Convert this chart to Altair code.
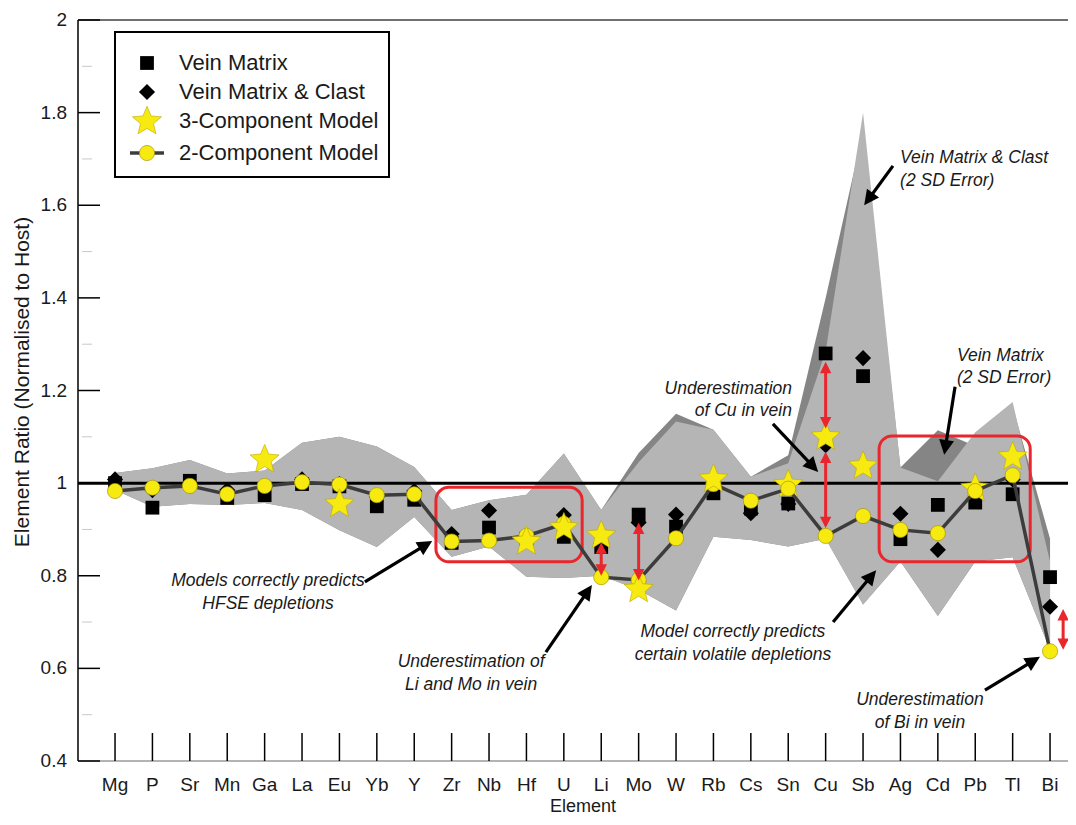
import math
import altair as alt
import pandas as pd

# ---------------- data ----------------
elements = ["Mg", "P", "Sr", "Mn", "Ga", "La", "Eu", "Yb", "Y", "Zr", "Nb", "Hf", "U",
            "Li", "Mo", "W", "Rb", "Cs", "Sn", "Cu", "Sb", "Ag", "Cd", "Pb", "Tl", "Bi"]
vein_matrix = [1.000, 0.947, 1.005, 0.968, 0.974, 0.998, 0.993, 0.950, 0.964, 0.871, 0.904, 0.880, 0.884,
               0.862, 0.932, 0.906, 0.978, 0.945, 0.956, 1.280, 1.231, 0.879, 0.953, 0.958, 0.976, 0.797]
vein_matrix_clast = [1.008, 0.985, 0.995, 0.985, 0.990, 1.008, 0.998, 0.970, 0.983, 0.890, 0.941, 0.884, 0.931,
                     0.870, 0.915, 0.932, 0.990, 0.935, 0.955, 1.082, 1.270, 0.934, 0.856, 0.972, 1.008, 0.733]
model_2comp = [0.983, 0.990, 0.994, 0.976, 0.994, 1.002, 0.997, 0.974, 0.976, 0.874, 0.876, 0.886, 0.912,
               0.797, 0.791, 0.881, 0.998, 0.962, 0.988, 0.886, 0.929, 0.899, 0.892, 0.983, 1.017, 0.637]
model_3comp = [None, None, None, None, 1.054, None, 0.958, None, None, None, None, 0.877, 0.907,
               0.890, 0.774, None, 1.012, None, 1.000, 1.103, 1.040, None, None, 0.992, 1.060, None]
stars_behind = ["Sn", "Pb"]
# 2 SD error envelopes
vmc_hi = [1.022, 1.032, 1.050, 1.021, 1.027, 1.087, 1.100, 1.079, 1.035, 0.942, 0.963, 0.975, 1.064,
          0.942, 1.045, 1.133, 1.115, 1.014, 1.043, 1.285, 1.800, 1.034, 1.004, 1.110, 1.175, 0.830]
vmc_lo = [0.985, 0.949, 0.955, 0.953, 0.957, 0.942, 0.898, 0.862, 0.927, 0.841, 0.863, 0.798, 0.795,
          0.800, 0.770, 0.725, 0.884, 0.877, 0.863, 0.880, 0.738, 0.831, 0.713, 0.831, 0.840, 0.640]
vm_hi = [1.022, 1.032, 1.050, 1.021, 1.027, 1.087, 1.100, 1.079, 1.035, 0.942, 0.963, 0.975, 1.064,
         0.942, 1.065, 1.150, 1.115, 1.014, 1.060, 1.400, 1.760, 1.034, 1.114, 1.080, 1.165, 0.880]
vm_lo = vmc_lo
y_major = [0.4, 0.6, 0.8, 1.0, 1.2, 1.4, 1.6, 1.8, 2.0]
y_labels = ["0.4", "0.6", "0.8", "1", "1.2", "1.4", "1.6", "1.8", "2"]
y_minor = [0.5, 0.7, 0.9, 1.1, 1.3, 1.5, 1.7, 1.9]
x_title = "Element"
y_title = "Element Ratio (Normalised to Host)"

# annotations (data coordinates: x = element index, y = ratio)
notes = [
    ("Models correctly predicts", 4.09, 0.789, "center"),
    ("HFSE depletions", 4.09, 0.739, "center"),
    ("Underestimation of", 9.52, 0.614, "center"),
    ("Li and Mo in vein", 9.52, 0.564, "center"),
    ("Model correctly predicts", 16.52, 0.679, "center"),
    ("certain volatile depletions", 16.52, 0.629, "center"),
    ("Underestimation", 18.10, 1.203, "right"),
    ("of Cu in vein", 18.10, 1.156, "right"),
    ("Vein Matrix & Clast", 20.99, 1.702, "left"),
    ("(2 SD Error)", 20.99, 1.652, "left"),
    ("Vein Matrix", 22.51, 1.275, "left"),
    ("(2 SD Error)", 22.51, 1.227, "left"),
    ("Underestimation", 21.52, 0.532, "center"),
    ("of Bi in vein", 21.52, 0.482, "center"),
]
note_arrows = [  # tail x, tail y, tip x, tip y
    (6.68, 0.787, 8.48, 0.875),
    (11.52, 0.635, 12.75, 0.780),
    (19.20, 0.700, 20.35, 0.812),
    (17.59, 1.128, 18.80, 1.024),
    (20.80, 1.685, 20.03, 1.600),
    (22.46, 1.208, 22.17, 1.061),
    (23.26, 0.553, 24.73, 0.625),
]
red_arrows = [  # x, top tip, bottom tip
    (13.0, 0.872, 0.800),
    (14.0, 0.915, 0.790),
    (19.0, 1.262, 1.118),
    (19.0, 1.068, 0.903),
    (25.35, 0.728, 0.640),
]
red_boxes = [  # x1, x2, y top, y bottom
    (8.58, 12.49, 0.991, 0.830),
    (20.43, 24.47, 1.102, 0.830),
]

# ---------------- layout ----------------
W, H = 990, 741
XDOM = [-0.99, 25.48]
YDOM = [0.4, 2.0]
SX = W / (XDOM[1] - XDOM[0])
SY = H / (YDOM[1] - YDOM[0])
FONT = "Liberation Sans"
TXT = "#1a1a1a"
RED = "#e8262c"
YEL = "#f7ea10"

xs = alt.Scale(domain=XDOM, nice=False, zero=False)
ys = alt.Scale(domain=YDOM, nice=False, zero=False)

df = pd.DataFrame({
    "el": elements, "i": list(range(len(elements))),
    "vm": vein_matrix, "vmc": vein_matrix_clast, "m2": model_2comp,
    "m3": [v if e not in stars_behind else None for e, v in zip(elements, model_3comp)],
    "m3b": [v if e in stars_behind else None for e, v in zip(elements, model_3comp)],
    "vmc_hi": vmc_hi, "vmc_lo": vmc_lo, "vm_hi": vm_hi, "vm_lo": vm_lo,
})
base = alt.Chart(df)
X = alt.X("i:Q", scale=xs, axis=None)


def Yf(f):
    return alt.Y(f + ":Q", scale=ys, axis=None)


one = pd.DataFrame({"k": [0]})
ydf = pd.DataFrame({"v": y_major, "lab": y_labels})

# ---- axes (drawn with marks on the shared scales) ----
y_domain = alt.Chart(one).mark_rule(color="black", strokeWidth=1.5).encode(
    x=alt.value(0), y=alt.value(0), y2=alt.value(H))
x_domain = alt.Chart(one).mark_rule(color="#9a9a9a", strokeWidth=1.5).encode(
    x=alt.value(0), x2=alt.value(W), y=alt.value(H))
top_border = alt.Chart(one).mark_rule(color="#707070", strokeWidth=2).encode(
    x=alt.value(0), x2=alt.value(W), y=alt.value(0))
x_ticks = base.mark_rule(color="black", strokeWidth=1.5).encode(x=X, y=alt.value(H - 28), y2=alt.value(H))
ymaj = alt.Chart(ydf).mark_rule(color="black", strokeWidth=1.5).encode(
    y=Yf("v"), x=alt.value(0), x2=alt.value(22))
ymin = alt.Chart(pd.DataFrame({"v": y_minor})).mark_rule(color="#c8c8c8", strokeWidth=1).encode(
    y=Yf("v"), x=alt.value(4), x2=alt.value(14))
x_labels = base.mark_text(font=FONT, fontSize=19, color=TXT, baseline="middle", align="center").encode(
    x=X, y=alt.value(H + 24), text="el:N")
y_lab = alt.Chart(ydf).mark_text(font=FONT, fontSize=19, color=TXT, baseline="middle", align="right").encode(
    y=Yf("v"), x=alt.value(-11), text="lab:N")
x_tit = alt.Chart(one).mark_text(text=x_title, font=FONT, fontSize=18, color=TXT, baseline="alphabetic",
                                 align="center").encode(x=alt.value(505), y=alt.value(H + 51))
y_tit = alt.Chart(one).mark_text(text=y_title, font=FONT, fontSize=21, color=TXT, baseline="middle",
                                 align="center", angle=270).encode(x=alt.value(-55), y=alt.value(362))

# ---- envelopes ----
band_vm = base.mark_area(color="#858585", opacity=1).encode(x=X, y=Yf("vm_hi"), y2="vm_lo:Q")
band_vmc = base.mark_area(color="#b5b5b5", opacity=1).encode(x=X, y=Yf("vmc_hi"), y2="vmc_lo:Q")

ref_line = alt.Chart(pd.DataFrame({"v": [1.0]})).mark_rule(color="black", strokeWidth=3).encode(
    y=Yf("v"), x=alt.value(0), x2=alt.value(W))

# red boxes
bx = pd.DataFrame(red_boxes, columns=["x1", "x2", "y1", "y2"])
boxes = alt.Chart(bx).mark_rect(cornerRadius=13, fillOpacity=0, stroke=RED, strokeWidth=3).encode(
    x=alt.X("x1:Q", scale=xs, axis=None), x2="x2:Q", y=Yf("y1"), y2="y2:Q")

# annotation text
nt = pd.DataFrame(notes, columns=["t", "x", "y", "a"])
note_layers = []
for a in ["center", "left", "right"]:
    note_layers.append(alt.Chart(nt[nt.a == a]).mark_text(
        align=a, baseline="middle", font=FONT, fontSize=17.5, fontStyle="italic", color=TXT
    ).encode(x=alt.X("x:Q", scale=xs, axis=None), y=Yf("y"), text="t:N"))

# annotation arrows
HEAD = "M0,0L-0.5,1L0.5,1Z"
rows = []
for x1, y1, x2, y2 in note_arrows:
    dx, dy = (x2 - x1) * SX, -(y2 - y1) * SY
    L = math.hypot(dx, dy)
    ux, uy = dx / L, dy / L
    ang = math.degrees(math.atan2(ux, -uy)) % 360
    rows.append({"x1": x1, "y1": y1, "xe": x2 - ux * 8 / SX, "ye": y2 + uy * 8 / SY,
                 "xt": x2, "yt": y2, "ang": ang})
ar = pd.DataFrame(rows)
arrow_lines = alt.Chart(ar).mark_rule(color="black", strokeWidth=3.2).encode(
    x=alt.X("x1:Q", scale=xs, axis=None), y=Yf("y1"), x2="xe:Q", y2="ye:Q")
arrow_heads = alt.Chart(ar).mark_point(shape=HEAD, filled=True, color="black", opacity=1, size=900).encode(
    x=alt.X("xt:Q", scale=xs, axis=None), y=Yf("yt"), angle=alt.Angle("ang:Q", scale=None))

# red double arrows
rr = []
for x, yt, yb in red_arrows:
    rr.append({"x": x, "yt": yt, "yb": yb, "ys": yt - 6 / SY, "ye": yb + 6 / SY})
rdf = pd.DataFrame(rr)
red_lines = alt.Chart(rdf).mark_rule(color=RED, strokeWidth=3).encode(
    x=alt.X("x:Q", scale=xs, axis=None), y=Yf("ys"), y2="ye:Q")
red_up = alt.Chart(rdf).mark_point(shape=HEAD, filled=True, color=RED, opacity=1, size=520, angle=0).encode(
    x=alt.X("x:Q", scale=xs, axis=None), y=Yf("yt"))
red_dn = alt.Chart(rdf).mark_point(shape=HEAD, filled=True, color=RED, opacity=1, size=520, angle=180).encode(
    x=alt.X("x:Q", scale=xs, axis=None), y=Yf("yb"))


def star_path(inner=0.45):
    pts = []
    for k in range(10):
        ang = math.radians(-90 + 36 * k)
        r = 1.0 if k % 2 == 0 else inner
        pts.append((r * math.cos(ang), r * math.sin(ang) + 0.1))
    return "M" + "L".join(f"{px:.3f},{py:.3f}" for px, py in pts) + "Z"


STAR = star_path()

squares = base.mark_point(shape="square", filled=True, color="black", opacity=1, size=190).encode(x=X, y=Yf("vm"))
diamonds = base.mark_point(shape="diamond", filled=True, color="black", opacity=1, size=260).encode(x=X, y=Yf("vmc"))
stars_b = base.mark_point(shape=STAR, filled=True, color=YEL, stroke="#b8a800", strokeWidth=0.6,
                          opacity=1, size=930).encode(x=X, y=Yf("m3b"))
model_line = base.mark_line(color="#3c3c3c", strokeWidth=3.5).encode(x=X, y=Yf("m2"))
circles = base.mark_point(shape="circle", filled=True, color=YEL, stroke="#a89a00", strokeWidth=0.7,
                          opacity=1, size=230).encode(x=X, y=Yf("m2"))
stars = base.mark_point(shape=STAR, filled=True, color=YEL, stroke="#b8a800", strokeWidth=0.6,
                        opacity=1, size=930).encode(x=X, y=Yf("m3"))

# legend (pixel positions inside the plot area)
lg = alt.Chart(one)
leg_box = lg.mark_rect(fill="white", stroke="black", strokeWidth=2).encode(
    x=alt.value(37), x2=alt.value(311), y=alt.value(12), y2=alt.value(157))
leg_sq = lg.mark_point(shape="square", filled=True, color="black", opacity=1, size=190).encode(
    x=alt.value(69), y=alt.value(43))
leg_di = lg.mark_point(shape="diamond", filled=True, color="black", opacity=1, size=260).encode(
    x=alt.value(69), y=alt.value(72))
leg_st = lg.mark_point(shape=STAR, filled=True, color=YEL, stroke="#b8a800", strokeWidth=0.6,
                       opacity=1, size=930).encode(x=alt.value(69), y=alt.value(100))
leg_ln = lg.mark_rule(color="#3c3c3c", strokeWidth=3.5).encode(
    x=alt.value(52), x2=alt.value(86), y=alt.value(133))
leg_ci = lg.mark_point(shape="circle", filled=True, color=YEL, stroke="#a89a00", strokeWidth=0.7,
                       opacity=1, size=230).encode(x=alt.value(69), y=alt.value(133))
leg_txt = []
for t, yy in [("Vein Matrix", 43), ("Vein Matrix & Clast", 72), ("3-Component Model", 101),
              ("2-Component Model", 133)]:
    leg_txt.append(lg.mark_text(text=t, align="left", baseline="middle", font=FONT, fontSize=22,
                                color=TXT).encode(x=alt.value(101), y=alt.value(yy)))

chart = alt.layer(
    band_vm, band_vmc, ref_line, top_border, x_domain, y_domain, x_ticks, ymaj, ymin,
    x_labels, y_lab, x_tit, y_tit,
    boxes, *note_layers, arrow_lines, arrow_heads,
    squares, diamonds, stars_b, model_line, circles, stars,
    red_lines, red_up, red_dn,
    leg_box, leg_sq, leg_di, leg_st, leg_ln, leg_ci, *leg_txt,
).properties(
    width=W, height=H, autosize=alt.AutoSizeParams(type="none"),
    padding={"left": 70, "top": 12, "right": 0, "bottom": 55},
    background="white",
).configure_view(stroke=None)

chart.save("out.html", embed_options={"renderer": "svg", "actions": False})
